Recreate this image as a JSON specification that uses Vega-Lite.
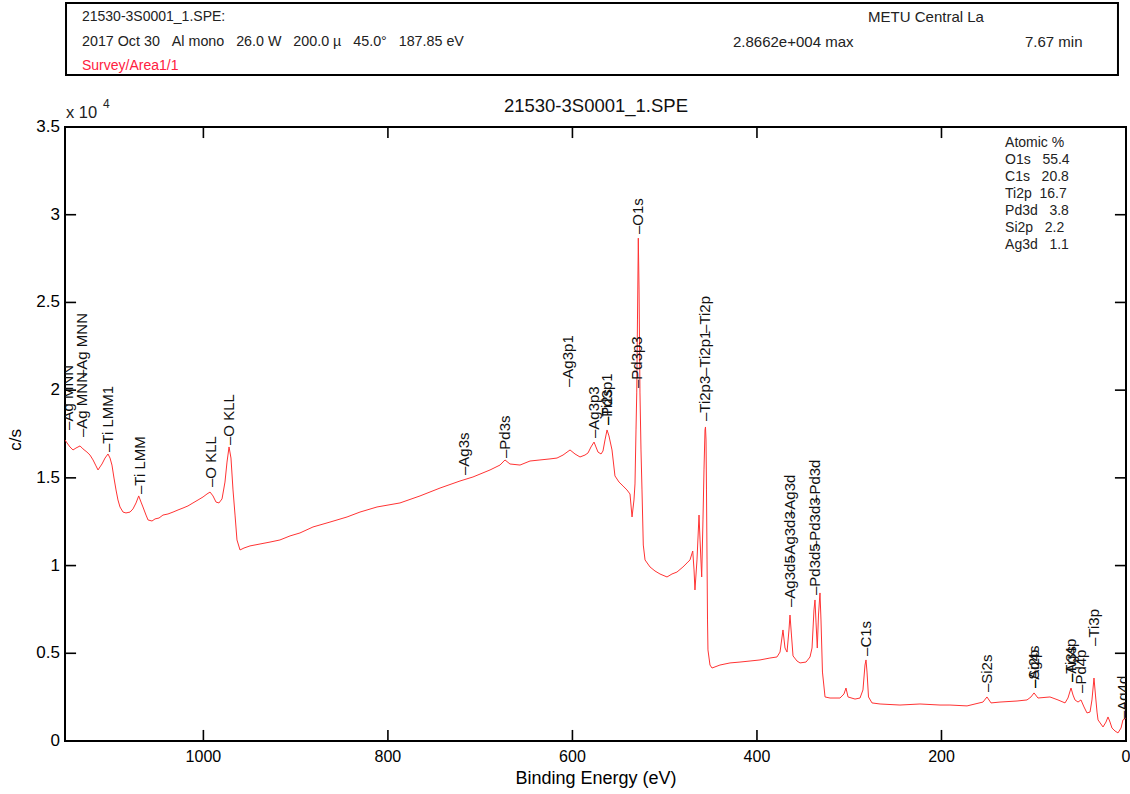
{
  "$schema": "https://vega.github.io/schema/vega-lite/v6.json",
  "width": 1061,
  "height": 614,
  "autosize": {"type": "none"},
  "padding": {"left": 65, "top": 127, "right": 4, "bottom": 53},
  "background": "white",
  "config": {
    "view": {"stroke": "black", "strokeWidth": 2},
    "text": {"font": "Liberation Sans"}
  },
  "datasets": {
    "spectrum": [
      {"e":1150.0,"c":17160},{"e":1147.8,"c":16990},{"e":1144.6,"c":16760},{"e":1141.3,"c":16590},{"e":1138.1,"c":16700},{"e":1133.7,"c":16820},{"e":1130.5,"c":16650},{"e":1126.2,"c":16470},{"e":1122.9,"c":16300},{"e":1119.6,"c":16020},{"e":1116.4,"c":15680},{"e":1114.2,"c":15450},{"e":1112.1,"c":15620},{"e":1109.9,"c":15790},{"e":1106.6,"c":16130},{"e":1103.4,"c":16360},{"e":1101.2,"c":16130},{"e":1099.1,"c":15730},{"e":1096.9,"c":14990},{"e":1094.7,"c":14310},{"e":1092.6,"c":13740},{"e":1090.4,"c":13340},{"e":1087.1,"c":13050},{"e":1083.9,"c":13000},{"e":1079.5,"c":13050},{"e":1076.3,"c":13230},{"e":1073.0,"c":13570},{"e":1070.1,"c":13970},{"e":1067.6,"c":13620},{"e":1065.5,"c":13340},{"e":1062.2,"c":12880},{"e":1060.0,"c":12600},{"e":1055.7,"c":12540},{"e":1052.4,"c":12660},{"e":1048.1,"c":12710},{"e":1043.8,"c":12880},{"e":1038.4,"c":12940},{"e":1032.9,"c":13050},{"e":1027.5,"c":13170},{"e":1022.1,"c":13280},{"e":1016.7,"c":13400},{"e":1011.3,"c":13570},{"e":1005.8,"c":13740},{"e":1000.4,"c":13910},{"e":996.1,"c":14080},{"e":992.8,"c":14190},{"e":989.6,"c":13970},{"e":986.3,"c":13620},{"e":983.1,"c":13570},{"e":979.8,"c":13800},{"e":976.6,"c":14760},{"e":974.4,"c":15900},{"e":972.2,"c":16760},{"e":970.1,"c":16130},{"e":967.9,"c":14310},{"e":965.7,"c":12880},{"e":963.6,"c":11460},{"e":960.3,"c":10890},{"e":956.0,"c":11000},{"e":949.5,"c":11120},{"e":938.6,"c":11230},{"e":927.8,"c":11340},{"e":917.0,"c":11460},{"e":906.1,"c":11690},{"e":895.3,"c":11860},{"e":881.2,"c":12200},{"e":862.8,"c":12480},{"e":844.3,"c":12770},{"e":830.3,"c":13050},{"e":811.8,"c":13340},{"e":786.9,"c":13570},{"e":765.2,"c":13970},{"e":743.5,"c":14420},{"e":721.9,"c":14820},{"e":707.8,"c":15050},{"e":689.3,"c":15450},{"e":678.5,"c":15730},{"e":673.1,"c":16020},{"e":667.7,"c":15790},{"e":656.8,"c":15730},{"e":646.0,"c":15960},{"e":635.2,"c":16020},{"e":624.3,"c":16080},{"e":616.7,"c":16130},{"e":610.2,"c":16300},{"e":602.6,"c":16590},{"e":597.2,"c":16360},{"e":591.8,"c":16190},{"e":586.4,"c":16300},{"e":583.1,"c":16420},{"e":579.9,"c":16760},{"e":576.6,"c":17040},{"e":574.5,"c":16760},{"e":572.3,"c":16470},{"e":569.0,"c":16360},{"e":566.9,"c":16530},{"e":564.7,"c":17160},{"e":562.5,"c":17730},{"e":560.4,"c":17390},{"e":557.1,"c":16590},{"e":553.9,"c":15110},{"e":549.5,"c":14760},{"e":545.2,"c":14540},{"e":540.9,"c":14310},{"e":537.6,"c":14080},{"e":535.4,"c":12770},{"e":533.3,"c":13740},{"e":532.2,"c":14650},{"e":531.1,"c":17730},{"e":530.3,"c":19840},{"e":529.5,"c":24000},{"e":528.6,"c":28662},{"e":527.8,"c":25710},{"e":526.8,"c":19840},{"e":525.7,"c":16590},{"e":524.6,"c":14310},{"e":523.2,"c":11170},{"e":521.3,"c":10320},{"e":515.9,"c":9920},{"e":510.5,"c":9690},{"e":505.1,"c":9520},{"e":497.5,"c":9350},{"e":492.1,"c":9520},{"e":486.7,"c":9630},{"e":480.2,"c":9920},{"e":475.8,"c":10150},{"e":472.6,"c":10320},{"e":469.6,"c":10830},{"e":468.2,"c":9750},{"e":467.2,"c":8610},{"e":465.0,"c":10320},{"e":462.8,"c":12880},{"e":461.7,"c":11460},{"e":459.9,"c":9350},{"e":458.5,"c":12600},{"e":457.4,"c":15450},{"e":456.3,"c":17730},{"e":455.8,"c":17900},{"e":455.2,"c":17160},{"e":454.7,"c":14310},{"e":454.1,"c":10320},{"e":453.6,"c":6900},{"e":453.1,"c":5190},{"e":450.9,"c":4330},{"e":448.7,"c":4160},{"e":440.1,"c":4330},{"e":429.2,"c":4450},{"e":418.4,"c":4500},{"e":407.5,"c":4560},{"e":396.7,"c":4620},{"e":385.9,"c":4730},{"e":378.3,"c":4790},{"e":375.0,"c":5070},{"e":371.8,"c":6330},{"e":369.6,"c":5300},{"e":367.4,"c":5070},{"e":365.3,"c":6330},{"e":364.2,"c":7180},{"e":362.6,"c":6040},{"e":360.9,"c":4850},{"e":356.6,"c":4560},{"e":353.3,"c":4450},{"e":346.8,"c":4500},{"e":342.5,"c":4790},{"e":340.3,"c":5300},{"e":338.2,"c":7470},{"e":337.1,"c":8040},{"e":336.0,"c":6780},{"e":334.6,"c":5300},{"e":333.3,"c":7180},{"e":331.7,"c":8440},{"e":330.6,"c":6900},{"e":329.0,"c":3930},{"e":326.2,"c":2510},{"e":320.8,"c":2450},{"e":310.0,"c":2450},{"e":305.7,"c":2680},{"e":303.5,"c":3020},{"e":301.3,"c":2510},{"e":293.7,"c":2390},{"e":288.3,"c":2450},{"e":285.1,"c":2910},{"e":282.9,"c":4330},{"e":281.8,"c":4620},{"e":280.7,"c":3930},{"e":279.1,"c":2510},{"e":275.3,"c":2170},{"e":266.6,"c":2110},{"e":245.0,"c":2050},{"e":223.3,"c":2110},{"e":201.6,"c":2050},{"e":190.8,"c":2050},{"e":172.3,"c":2000},{"e":155.0,"c":2220},{"e":150.7,"c":2510},{"e":146.3,"c":2170},{"e":136.6,"c":2220},{"e":118.1,"c":2280},{"e":107.3,"c":2340},{"e":103.0,"c":2510},{"e":99.7,"c":2740},{"e":95.4,"c":2450},{"e":82.4,"c":2510},{"e":73.7,"c":2340},{"e":66.1,"c":2170},{"e":62.9,"c":2450},{"e":59.6,"c":3020},{"e":57.4,"c":2620},{"e":55.3,"c":2340},{"e":52.0,"c":2220},{"e":48.8,"c":2340},{"e":45.5,"c":1940},{"e":42.3,"c":1600},{"e":39.0,"c":1650},{"e":36.9,"c":2340},{"e":34.7,"c":3590},{"e":33.1,"c":2620},{"e":31.4,"c":1650},{"e":30.3,"c":1200},{"e":24.9,"c":800},{"e":21.7,"c":1080},{"e":19.5,"c":1370},{"e":17.3,"c":1080},{"e":15.2,"c":740},{"e":11.9,"c":570},{"e":8.7,"c":460},{"e":5.4,"c":740},{"e":3.3,"c":1200},{"e":0.0,"c":1310}
    ],
    "peaks": [
      {"t":"–Ag MNN","e":1146.7,"c":17730},
      {"t":"–Ag MNN","e":1131.6,"c":17330},
      {"t":"–Ag MNN","e":1131.6,"c":20690},
      {"t":"–Ti LMM1","e":1103.4,"c":16470},
      {"t":"–Ti LMM","e":1068.7,"c":14080},
      {"t":"–O KLL","e":991.8,"c":14480},
      {"t":"–O KLL","e":972.2,"c":16870},
      {"t":"–Ag3s","e":717.5,"c":15160},
      {"t":"–Pd3s","e":673.1,"c":16130},
      {"t":"–Ag3p1","e":604.8,"c":20180},
      {"t":"–Ag3p3","e":576.6,"c":17270},
      {"t":"–Ti2s","e":562.5,"c":18010},
      {"t":"–Pd3p1","e":562.5,"c":18010},
      {"t":"–Pd3p3","e":530.0,"c":20120},
      {"t":"–O1s","e":528.9,"c":28900},
      {"t":"–Ti2p3","e":456.3,"c":18240},
      {"t":"–Ti2p1","e":456.3,"c":20810},
      {"t":"–Ti2p","e":456.3,"c":23260},
      {"t":"–Ag3d5","e":364.2,"c":7640},
      {"t":"–Ag3d3","e":364.2,"c":10150},
      {"t":"–Ag3d","e":364.2,"c":12710},
      {"t":"–Pd3d5","e":337.1,"c":8320},
      {"t":"–Pd3d3","e":337.1,"c":10940},
      {"t":"–Pd3d","e":337.1,"c":13570},
      {"t":"–C1s","e":281.8,"c":4850},
      {"t":"–Si2s","e":150.7,"c":2790},
      {"t":"–Ag4s","e":99.7,"c":3020},
      {"t":"–Si2p","e":99.7,"c":3020},
      {"t":"–Ti3s","e":59.6,"c":3360},
      {"t":"–Ag4p","e":59.6,"c":3360},
      {"t":"–Pd4p","e":48.8,"c":2740},
      {"t":"–Ti3p","e":34.7,"c":5420},
      {"t":"–Ag4d","e":3.3,"c":1250}
    ],
    "xticks": [{"v":200},{"v":400},{"v":600},{"v":800},{"v":1000}],
    "yticks": [{"v":5000},{"v":10000},{"v":15000},{"v":20000},{"v":25000},{"v":30000}],
    "xlabels": [{"v":0,"lab":"0"},{"v":200,"lab":"200"},{"v":400,"lab":"400"},{"v":600,"lab":"600"},{"v":800,"lab":"800"},{"v":1000,"lab":"1000"}],
    "ylabels": [{"v":0,"lab":"0"},{"v":5000,"lab":"0.5"},{"v":10000,"lab":"1"},{"v":15000,"lab":"1.5"},{"v":20000,"lab":"2"},{"v":25000,"lab":"2.5"},{"v":30000,"lab":"3"},{"v":35000,"lab":"3.5"}]
  },
  "layer": [
    {
      "data": {"name": "spectrum"},
      "mark": {"type": "line", "color": "#ff3333", "strokeWidth": 1, "clip": true},
      "encoding": {
        "x": {"field": "e", "type": "quantitative", "scale": {"domain": [0, 1150], "reverse": true, "nice": false, "zero": false}, "axis": null},
        "y": {"field": "c", "type": "quantitative", "scale": {"domain": [0, 35000], "nice": false, "zero": false}, "axis": null}
      }
    },
    {
      "data": {"name": "xlabels"},
      "mark": {"type": "text", "align": "center", "baseline": "middle", "fontSize": 16, "color": "black", "clip": false, "dy": 16},
      "encoding": {
        "x": {"field": "v", "type": "quantitative", "scale": {"domain": [0, 1150], "reverse": true, "nice": false, "zero": false}, "axis": null},
        "y": {"datum": 0, "type": "quantitative", "scale": {"domain": [0, 35000], "nice": false, "zero": false}, "axis": null},
        "text": {"field": "lab"}
      }
    },
    {
      "data": {"name": "ylabels"},
      "mark": {"type": "text", "align": "right", "baseline": "middle", "fontSize": 17, "color": "black", "clip": false, "dx": -5},
      "encoding": {
        "y": {"field": "v", "type": "quantitative", "scale": {"domain": [0, 35000], "nice": false, "zero": false}, "axis": null},
        "x": {"datum": 1150, "type": "quantitative", "scale": {"domain": [0, 1150], "reverse": true, "nice": false, "zero": false}, "axis": null},
        "text": {"field": "lab"}
      }
    },
    {
      "data": {"values": [{}]},
      "mark": {"type": "text", "align": "center", "baseline": "middle", "fontSize": 18, "color": "black", "clip": false, "dy": 38},
      "encoding": {
        "x": {"datum": 574.5, "type": "quantitative", "scale": {"domain": [0, 1150], "reverse": true, "nice": false, "zero": false}, "axis": null},
        "y": {"datum": 0, "type": "quantitative", "scale": {"domain": [0, 35000], "nice": false, "zero": false}, "axis": null},
        "text": {"value": "Binding Energy (eV)"}
      }
    },
    {
      "data": {"values": [{}]},
      "mark": {"type": "text", "align": "center", "baseline": "middle", "angle": 270, "fontSize": 17, "color": "black", "clip": false, "dy": -49},
      "encoding": {
        "x": {"datum": 1150, "type": "quantitative", "scale": {"domain": [0, 1150], "reverse": true, "nice": false, "zero": false}, "axis": null},
        "y": {"datum": 17160, "type": "quantitative", "scale": {"domain": [0, 35000], "nice": false, "zero": false}, "axis": null},
        "text": {"value": "c/s"}
      }
    },
    {
      "data": {"name": "peaks"},
      "mark": {"type": "text", "angle": 270, "align": "left", "baseline": "middle", "fontSize": 15, "color": "#111", "clip": true},
      "encoding": {
        "x": {"field": "e", "type": "quantitative", "scale": {"domain": [0, 1150], "reverse": true, "nice": false, "zero": false}, "axis": null},
        "y": {"field": "c", "type": "quantitative", "scale": {"domain": [0, 35000], "nice": false, "zero": false}, "axis": null},
        "text": {"field": "t"}
      }
    },
    {
      "data": {"values": [{}]},
      "mark": {"type": "text", "align": "center", "baseline": "middle", "fontSize": 18.5, "color": "#111", "clip": false},
      "encoding": {
        "x": {"datum": 574.5, "type": "quantitative", "scale": {"domain": [0, 1150], "reverse": true, "nice": false, "zero": false}, "axis": null},
        "y": {"datum": 36200, "type": "quantitative", "scale": {"domain": [0, 35000], "nice": false, "zero": false}, "axis": null},
        "text": {"value": "21530-3S0001_1.SPE"}
      }
    },
    {
      "data": {"values": [{}]},
      "mark": {"type": "text", "align": "left", "baseline": "middle", "fontSize": 16.5, "color": "#222", "clip": false, "dx": 1, "dy": -14},
      "encoding": {
        "x": {"datum": 1150, "type": "quantitative", "scale": {"domain": [0, 1150], "reverse": true, "nice": false, "zero": false}, "axis": null},
        "y": {"datum": 35000, "type": "quantitative", "scale": {"domain": [0, 35000], "nice": false, "zero": false}, "axis": null},
        "text": {"value": "x 10"}
      }
    },
    {
      "data": {"values": [{}]},
      "mark": {"type": "text", "align": "left", "baseline": "middle", "fontSize": 12, "color": "#222", "clip": false, "dx": 38, "dy": -23},
      "encoding": {
        "x": {"datum": 1150, "type": "quantitative", "scale": {"domain": [0, 1150], "reverse": true, "nice": false, "zero": false}, "axis": null},
        "y": {"datum": 35000, "type": "quantitative", "scale": {"domain": [0, 35000], "nice": false, "zero": false}, "axis": null},
        "text": {"value": "4"}
      }
    },
    {
      "data": {"values": [{}]},
      "mark": {"type": "text", "align": "left", "baseline": "top", "fontSize": 14, "lineHeight": 17, "color": "#222", "clip": false},
      "encoding": {
        "x": {"datum": 131.1, "type": "quantitative", "scale": {"domain": [0, 1150], "reverse": true, "nice": false, "zero": false}, "axis": null},
        "y": {"datum": 34490, "type": "quantitative", "scale": {"domain": [0, 35000], "nice": false, "zero": false}, "axis": null},
        "text": {"value": ["Atomic %", "O1s\u00a0\u00a0\u00a055.4", "C1s\u00a0\u00a0\u00a020.8", "Ti2p\u00a0\u00a016.7", "Pd3d\u00a0\u00a0\u00a03.8", "Si2p\u00a0\u00a0\u00a02.2", "Ag3d\u00a0\u00a0\u00a01.1"]}
      }
    },
    {
      "data": {"values": [{}]},
      "mark": {"type": "rect", "fill": "white", "stroke": "black", "strokeWidth": 2, "clip": false},
      "encoding": {
        "x": {"datum": 1148.9, "type": "quantitative", "scale": {"domain": [0, 1150], "reverse": true, "nice": false, "zero": false}, "axis": null},
        "x2": {"datum": 8.7},
        "y": {"datum": 42068, "type": "quantitative", "scale": {"domain": [0, 35000], "nice": false, "zero": false}, "axis": null},
        "y2": {"datum": 37964}
      }
    },
    {
      "data": {"values": [{}]},
      "mark": {"type": "text", "align": "left", "baseline": "middle", "fontSize": 14, "color": "#222", "clip": false},
      "encoding": {
        "x": {"datum": 1131.6, "type": "quantitative", "scale": {"domain": [0, 1150], "reverse": true, "nice": false, "zero": false}, "axis": null},
        "y": {"datum": 41270, "type": "quantitative", "scale": {"domain": [0, 35000], "nice": false, "zero": false}, "axis": null},
        "text": {"value": "21530-3S0001_1.SPE:"}
      }
    },
    {
      "data": {"values": [{}]},
      "mark": {"type": "text", "align": "left", "baseline": "middle", "fontSize": 14.3, "color": "#222", "clip": false},
      "encoding": {
        "x": {"datum": 1131.6, "type": "quantitative", "scale": {"domain": [0, 1150], "reverse": true, "nice": false, "zero": false}, "axis": null},
        "y": {"datum": 39845, "type": "quantitative", "scale": {"domain": [0, 35000], "nice": false, "zero": false}, "axis": null},
        "text": {"value": "2017 Oct 30\u00a0\u00a0\u00a0Al mono\u00a0\u00a0\u00a026.0 W\u00a0\u00a0\u00a0200.0 µ\u00a0\u00a0\u00a045.0°\u00a0\u00a0\u00a0187.85 eV"}
      }
    },
    {
      "data": {"values": [{}]},
      "mark": {"type": "text", "align": "left", "baseline": "middle", "fontSize": 14, "color": "#ff2040", "clip": false},
      "encoding": {
        "x": {"datum": 1131.6, "type": "quantitative", "scale": {"domain": [0, 1150], "reverse": true, "nice": false, "zero": false}, "axis": null},
        "y": {"datum": 38477, "type": "quantitative", "scale": {"domain": [0, 35000], "nice": false, "zero": false}, "axis": null},
        "text": {"value": "Survey/Area1/1"}
      }
    },
    {
      "data": {"values": [{}]},
      "mark": {"type": "text", "align": "left", "baseline": "middle", "fontSize": 15, "color": "#222", "clip": false},
      "encoding": {
        "x": {"datum": 279.6, "type": "quantitative", "scale": {"domain": [0, 1150], "reverse": true, "nice": false, "zero": false}, "axis": null},
        "y": {"datum": 41270, "type": "quantitative", "scale": {"domain": [0, 35000], "nice": false, "zero": false}, "axis": null},
        "text": {"value": "METU Central La"}
      }
    },
    {
      "data": {"values": [{}]},
      "mark": {"type": "text", "align": "left", "baseline": "middle", "fontSize": 15, "color": "#222", "clip": false},
      "encoding": {
        "x": {"datum": 426.0, "type": "quantitative", "scale": {"domain": [0, 1150], "reverse": true, "nice": false, "zero": false}, "axis": null},
        "y": {"datum": 39845, "type": "quantitative", "scale": {"domain": [0, 35000], "nice": false, "zero": false}, "axis": null},
        "text": {"value": "2.8662e+004 max"}
      }
    },
    {
      "data": {"values": [{}]},
      "mark": {"type": "text", "align": "left", "baseline": "middle", "fontSize": 15, "color": "#222", "clip": false},
      "encoding": {
        "x": {"datum": 109.5, "type": "quantitative", "scale": {"domain": [0, 1150], "reverse": true, "nice": false, "zero": false}, "axis": null},
        "y": {"datum": 39845, "type": "quantitative", "scale": {"domain": [0, 35000], "nice": false, "zero": false}, "axis": null},
        "text": {"value": "7.67 min"}
      }
    },
    {
      "data": {"name": "xticks"},
      "mark": {"type": "rect", "width": 1.6, "fill": "black", "clip": false},
      "encoding": {
        "x": {"field": "v", "type": "quantitative", "scale": {"domain": [0, 1150], "reverse": true, "nice": false, "zero": false}, "axis": null},
        "y": {"datum": 0, "type": "quantitative", "scale": {"domain": [0, 35000], "nice": false, "zero": false}, "axis": null},
        "y2": {"datum": 630}
      }
    },
    {
      "data": {"name": "xticks"},
      "mark": {"type": "rect", "width": 1.6, "fill": "black", "clip": false},
      "encoding": {
        "x": {"field": "v", "type": "quantitative", "scale": {"domain": [0, 1150], "reverse": true, "nice": false, "zero": false}, "axis": null},
        "y": {"datum": 35000, "type": "quantitative", "scale": {"domain": [0, 35000], "nice": false, "zero": false}, "axis": null},
        "y2": {"datum": 34370}
      }
    },
    {
      "data": {"name": "yticks"},
      "mark": {"type": "rect", "height": 1.6, "fill": "black", "clip": false},
      "encoding": {
        "y": {"field": "v", "type": "quantitative", "scale": {"domain": [0, 35000], "nice": false, "zero": false}, "axis": null},
        "x": {"datum": 1150, "type": "quantitative", "scale": {"domain": [0, 1150], "reverse": true, "nice": false, "zero": false}, "axis": null},
        "x2": {"datum": 1138}
      }
    },
    {
      "data": {"name": "yticks"},
      "mark": {"type": "rect", "height": 1.6, "fill": "black", "clip": false},
      "encoding": {
        "y": {"field": "v", "type": "quantitative", "scale": {"domain": [0, 35000], "nice": false, "zero": false}, "axis": null},
        "x": {"datum": 0, "type": "quantitative", "scale": {"domain": [0, 1150], "reverse": true, "nice": false, "zero": false}, "axis": null},
        "x2": {"datum": 12}
      }
    }
  ]
}
